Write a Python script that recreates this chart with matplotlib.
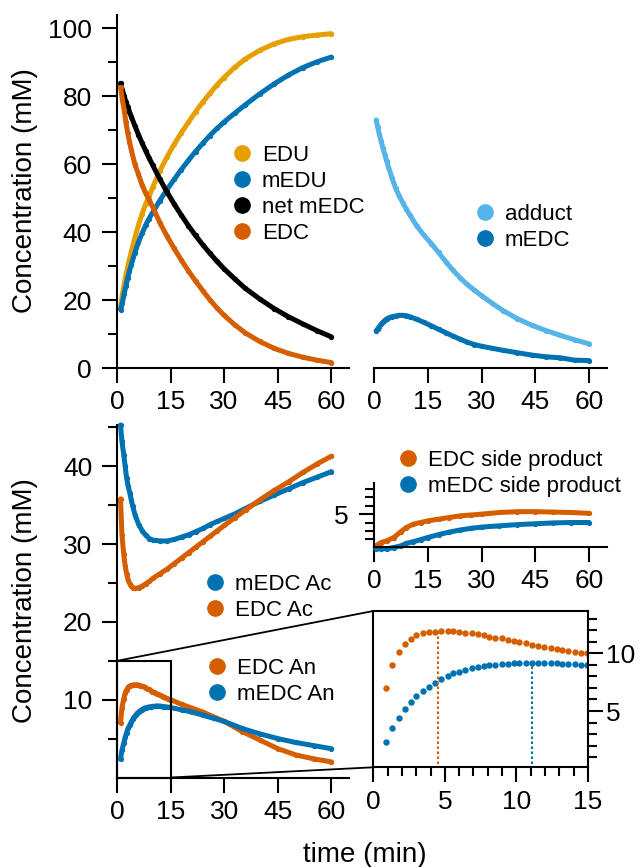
import numpy as np
import matplotlib
matplotlib.use("Agg")
import matplotlib.pyplot as plt
from matplotlib.lines import Line2D
from matplotlib.patches import Rectangle, ConnectionPatch

plt.rcParams['font.family'] = ['Liberation Sans', 'DejaVu Sans']

# colours
ORANGE = "#D55E00"
GOLD = "#E69F00"
BLUE = "#0072B2"
SKY = "#56B4E9"

# ---- top left: hydrolysis products (mM vs min)
tA = [1, 1.5, 2, 2.5, 3, 3.5, 4, 5, 6, 7, 8, 9, 10, 12, 14, 16, 18, 20, 22, 24,
      26, 28, 30, 33, 36, 40, 44, 48, 52, 56, 60]
edu = [17.5, 21.7, 24.6, 27.4, 29.8, 32.0, 34.2, 38.3, 42.0, 45.3, 48.2, 50.6, 53.2,
       58.0, 62.1, 65.8, 69.2, 72.3, 75.4, 78.2, 80.8, 83.3, 85.5, 88.5, 91.0, 93.5,
       95.4, 96.7, 97.5, 98.0, 98.4]
medu = [17.2, 19.2, 21.8, 24.2, 26.5, 28.6, 30.4, 33.9, 37.0, 39.6, 42.0, 44.0, 45.8,
        49.3, 52.5, 55.5, 58.4, 61.1, 63.7, 66.1, 68.4, 70.5, 72.4, 75.0, 77.5, 80.7,
        83.6, 86.2, 88.4, 90.1, 91.5]
net_medc = [83.8, 81.8, 80.0, 78.4, 76.9, 75.4, 74.0, 71.3, 68.7, 66.3, 64.0, 61.8, 59.7,
            55.6, 51.8, 48.3, 45.0, 41.9, 39.0, 36.3, 33.8, 31.4, 29.2, 26.2, 23.4, 20.3,
            17.5, 15.1, 13.0, 11.0, 9.2]
edc = [82.6, 79.0, 76.0, 72.3, 69.2, 66.6, 64.2, 60.0, 57.0, 54.0, 51.5, 49.5, 47.4,
       42.8, 38.8, 35.2, 31.8, 28.6, 25.6, 22.8, 20.1, 17.7, 15.5, 12.7, 10.3, 7.8,
       5.8, 4.3, 3.2, 2.3, 1.6]

# ---- top right
tB = [0.6, 1, 1.5, 2, 2.5, 3, 3.5, 4, 5, 6, 7, 8, 9, 10, 12, 14, 16, 18, 20, 22, 24,
      26, 28, 30, 33, 36, 40, 44, 48, 52, 56, 60]
adduct = [73.0, 71.0, 68.8, 66.7, 64.7, 62.8, 61.0, 59.3, 56.0, 53.0, 50.7, 48.7, 46.8,
          45.0, 41.7, 39.0, 36.6, 34.0, 31.3, 28.8, 26.6, 24.6, 22.9, 21.3, 19.0, 16.9,
          14.5, 12.6, 11.0, 9.6, 8.3, 7.1]
medc_b = [10.9, 11.5, 12.2, 12.9, 13.5, 14.0, 14.4, 14.7, 15.1, 15.3, 15.5, 15.5, 15.4,
          15.1, 14.3, 13.4, 12.4, 11.4, 10.4, 9.4, 8.5, 7.6, 6.9, 6.4, 5.8, 5.2, 4.5,
          3.8, 3.3, 3.0, 2.3, 2.2]

# ---- bottom left: acids
tC = [0.9, 1.3, 1.8, 2.2, 2.6, 3.0, 3.5, 3.9, 4.3, 5, 6, 7, 8, 9, 10, 12, 14, 16, 18,
      20, 22, 24, 26, 28, 30, 33, 36, 40, 44, 48, 52, 56, 60]
medc_ac = [45.3, 43.2, 41.5, 40.0, 38.5, 37.5, 36.6, 35.7, 34.9, 33.7, 32.5, 31.7, 31.1,
           30.7, 30.5, 30.4, 30.4, 30.6, 30.9, 31.2, 31.6, 32.0, 32.5, 32.9, 33.3, 33.9,
           34.6, 35.5, 36.3, 37.1, 37.9, 38.6, 39.3]
edc_ac = [35.8, 31.2, 28.7, 27.2, 26.2, 25.4, 24.9, 24.6, 24.4, 24.3, 24.4, 24.6, 24.9,
          25.2, 25.6, 26.2, 26.8, 27.5, 28.2, 28.9, 29.6, 30.3, 31.0, 31.7, 32.4, 33.4,
          34.4, 35.7, 36.9, 38.0, 39.2, 40.3, 41.3]

# anhydrides, first 15 min (also the zoomed panel)
tE = [0.9, 1.3, 1.8, 2.2, 2.6, 3.0, 3.5, 3.9, 4.3, 4.7, 5.2, 5.6, 6.0, 6.4, 6.9, 7.3,
      7.7, 8.1, 8.5, 9.0, 9.4, 9.8, 10.2, 10.7, 11.1, 11.5, 11.9, 12.4, 12.8, 13.2,
      13.6, 14.1, 14.5, 14.9]
edc_an_e = [7.03, 8.97, 10.09, 10.84, 11.25, 11.57, 11.77, 11.83, 11.88, 11.92, 11.93,
            11.92, 11.88, 11.80, 11.74, 11.70, 11.57, 11.45, 11.36, 11.31, 11.18, 11.05,
            10.95, 10.88, 10.75, 10.67, 10.58, 10.47, 10.40, 10.32, 10.22, 10.12, 10.05,
            10.01]
medc_an_e = [2.34, 3.50, 4.42, 5.15, 5.76, 6.33, 6.74, 7.11, 7.46, 7.78, 8.01, 8.27, 8.41,
             8.59, 8.73, 8.85, 8.93, 8.99, 9.02, 9.08, 9.10, 9.13, 9.15, 9.17, 9.19, 9.20,
             9.18, 9.15, 9.12, 9.10, 9.07, 9.05, 9.02, 9.00]
# anhydrides, rest of the run
tC_late = [18, 21, 24, 27, 30, 35, 40, 45, 50, 55, 60]
edc_an_late = [9.4, 8.9, 8.4, 7.8, 7.2, 5.9, 4.8, 3.7, 2.9, 2.4, 2.0]
medc_an_late = [8.7, 8.4, 8.0, 7.6, 7.2, 6.3, 5.6, 5.0, 4.5, 4.1, 3.7]
edc_an_peak = (4.5, 11.9)
medc_an_peak = (11.1, 9.1)

# ---- side products
tD = [0.5, 2, 3.5, 5.5, 7.5, 9, 11, 13, 15, 18, 21, 24, 27, 30, 35, 40, 45, 50, 55, 60]
edc_side = [1.2, 1.6, 1.8, 2.2, 2.9, 3.4, 3.8, 4.0, 4.2, 4.4, 4.6, 4.8, 4.9, 5.0, 5.2,
            5.3, 5.3, 5.25, 5.2, 5.1]
medc_side = [0.85, 0.85, 0.85, 1.0, 1.2, 1.5, 1.7, 1.95, 2.2, 2.55, 2.85, 3.1, 3.3, 3.45,
             3.6, 3.75, 3.85, 3.95, 4.0, 4.0]

W, H = 639, 867
fig = plt.figure(figsize=(W / 100, H / 100), dpi=100)


def px_axes(left, top, right, bottom):
    return fig.add_axes([left / W, 1 - bottom / H, (right - left) / W, (bottom - top) / H])


def style(ax, spines=("left", "bottom")):
    for s in ["left", "right", "top", "bottom"]:
        ax.spines[s].set_visible(s in spines)
        ax.spines[s].set_linewidth(1.5)
    ax.tick_params(which="both", direction="out", width=1.5, labelsize=19)
    ax.tick_params(axis="x", pad=5)
    ax.tick_params(axis="y", pad=7)
    ax.tick_params(which="major", length=11)
    ax.tick_params(which="minor", length=6.5)
    ax.patch.set_alpha(0)


def trace(ax, t, y, color):
    ax.plot(t, y, "-o", color=color, lw=3.6, ms=3.8, mew=0,
            solid_capstyle="round", solid_joinstyle="round", clip_on=False)


def legend(entries, x, y):
    # x, y: centre of the first legend marker, in figure pixels
    handles = [Line2D([], [], ls="none", marker="o", ms=11, color=c, label=l)
               for l, c in entries]
    fig.legend(handles=handles, loc="upper left",
               bbox_to_anchor=((x - 8.9) / W, 1 - (y - 8) / H),
               frameon=False, fontsize=16, handlelength=0.8, handletextpad=0.5,
               labelspacing=0.22, borderpad=0, borderaxespad=0)


xt = [0, 15, 30, 45, 60]

# top left
axA = px_axes(117, 15, 349, 368)
style(axA)
trace(axA, tA, edu, GOLD)
trace(axA, tA, medu, BLUE)
trace(axA, tA, net_medc, "black")
trace(axA, tA, edc, ORANGE)
axA.set_xlim(0, 65)
axA.set_ylim(0, 103.9)
axA.set_xticks(xt)
axA.set_yticks([0, 20, 40, 60, 80, 100])
axA.set_yticks([10, 30, 50, 70, 90], minor=True)

# top right
axB = px_axes(374, 15, 607, 368)
style(axB, spines=("bottom",))
trace(axB, tB, adduct, SKY)
trace(axB, tB, medc_b, BLUE)
axB.set_xlim(0, 65)
axB.set_ylim(0, 103.9)
axB.set_xticks(xt)
axB.set_yticks([])

# bottom left
axC = px_axes(117.3, 425, 349.3, 777.5)
style(axC)
trace(axC, tC, medc_ac, BLUE)
trace(axC, tC, edc_ac, ORANGE)
trace(axC, tE + tC_late, edc_an_e + edc_an_late, ORANGE)
trace(axC, tE + tC_late, medc_an_e + medc_an_late, BLUE)
axC.set_xlim(0, 65)
axC.set_ylim(0, 45.3)
axC.set_xticks(xt)
axC.set_yticks([10, 20, 30, 40])
axC.set_yticks([5, 15, 25, 35, 45], minor=True)
axC.add_patch(Rectangle((0, 0), 15, 15, fill=False, lw=1.5, ec="black", clip_on=False, zorder=5))

# side products
axD = px_axes(374, 483.3, 607, 546.7)
style(axD)
trace(axD, tD, edc_side, ORANGE)
trace(axD, tD, medc_side, BLUE)
axD.set_xlim(0, 65)
axD.set_ylim(1.1, 8.7)
axD.set_xticks(xt)
axD.set_yticks([5])
axD.set_yticks([2, 3, 4, 6, 7, 8], minor=True)

# zoom on anhydrides
axE = px_axes(373.3, 611, 588, 767.3)
style(axE, spines=("left", "right", "top", "bottom"))
axE.yaxis.tick_right()
axE.tick_params(axis="y", pad=2)
axE.plot(tE, edc_an_e, "o", color=ORANGE, ms=4.6, mew=0)
axE.plot(tE, medc_an_e, "o", color=BLUE, ms=4.6, mew=0)
axE.plot([edc_an_peak[0]] * 2, [0, edc_an_peak[1]], color=ORANGE, lw=1.5, ls=(0, (1.2, 1.2)))
axE.plot([medc_an_peak[0]] * 2, [0, medc_an_peak[1]], color=BLUE, lw=1.5, ls=(0, (1.2, 1.2)))
axE.set_xlim(0, 15)
axE.set_ylim(0.12, 13.67)
axE.set_xticks([0, 5, 10, 15])
axE.set_xticks([m for m in range(1, 15) if m % 5], minor=True)
axE.set_yticks([5, 10])
axE.set_yticks([m for m in range(1, 14) if m % 5], minor=True)

for xyA, xyB in [((0, 15), (0, 1)), ((15, 0), (0, 0))]:
    con = ConnectionPatch(xyA=xyA, coordsA=axC.transData, xyB=xyB, coordsB=axE.transAxes,
                          color="black", lw=1.3)
    fig.add_artist(con)

legend([("EDU", GOLD), ("mEDU", BLUE), ("net mEDC", "black"), ("EDC", ORANGE)], 242, 153)
legend([("adduct", SKY), ("mEDC", BLUE)], 485, 212)
legend([("mEDC Ac", BLUE), ("EDC Ac", ORANGE)], 215, 582)
legend([("EDC An", ORANGE), ("mEDC An", BLUE)], 217, 666)
legend([("EDC side product", ORANGE), ("mEDC side product", BLUE)], 408, 458)

fig.text(25 / W, 1 - 191 / H, "Concentration (mM)", rotation=90, ha="center", va="center", fontsize=20)
fig.text(25 / W, 1 - 601 / H, "Concentration (mM)", rotation=90, ha="center", va="center", fontsize=20)
fig.text(365 / W, 1 - 855 / H, "time (min)", ha="center", va="center", fontsize=20)

fig.savefig("out.png", dpi=100)
